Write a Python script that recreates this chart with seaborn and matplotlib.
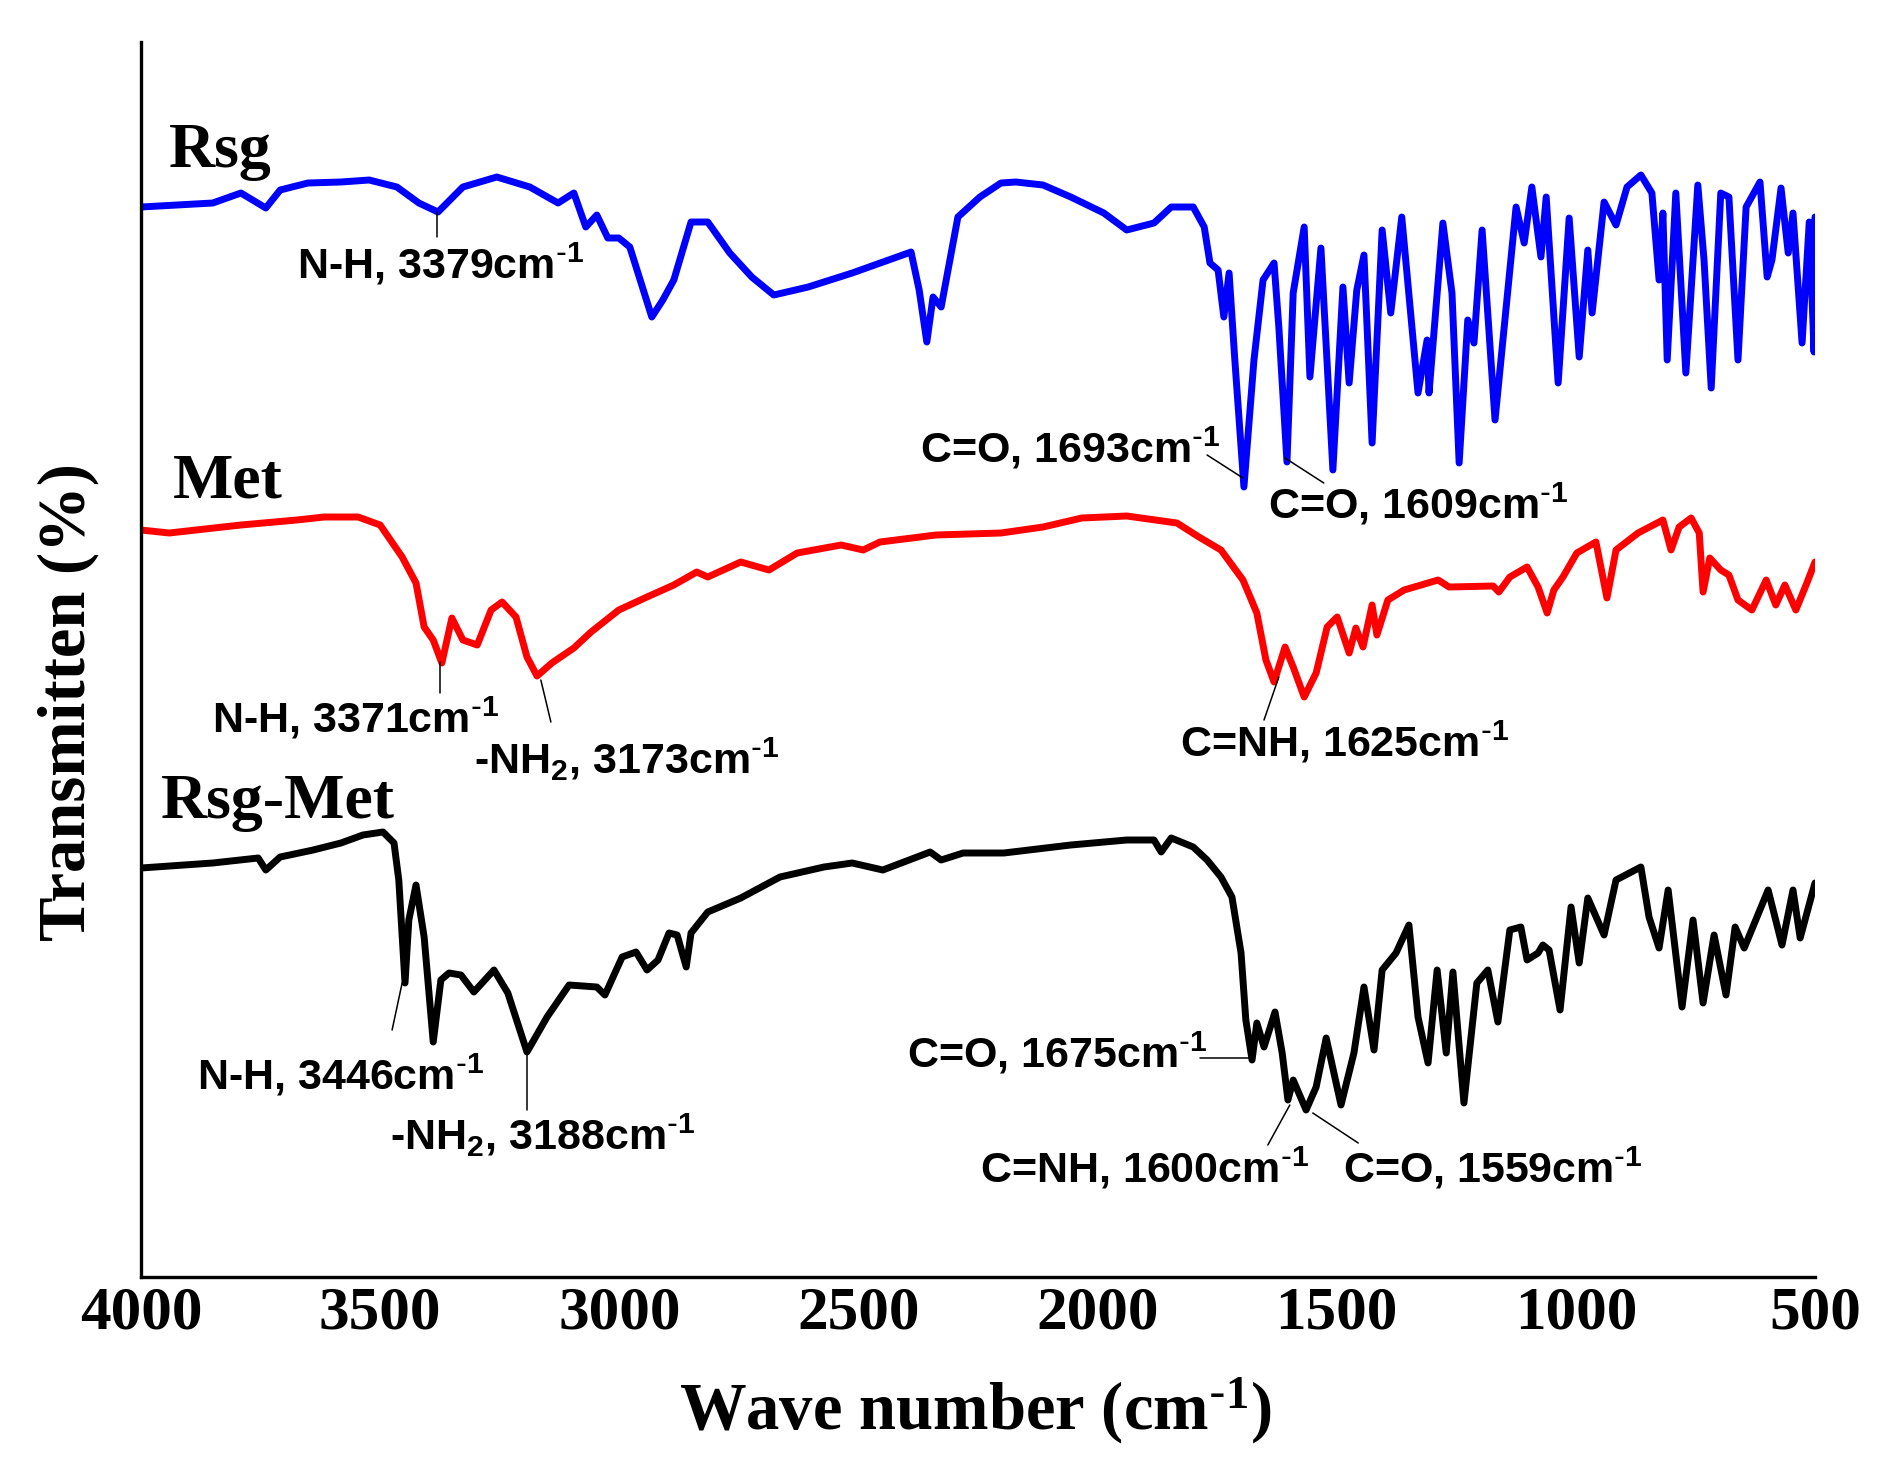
import matplotlib
matplotlib.use("Agg")
import matplotlib.pyplot as plt
import pandas as pd
import seaborn as sns

# ---------------- data (wavenumber cm^-1, transmittance arbitrary offset units) -------------
rsg_wn = [4000, 3850, 3791, 3739, 3709, 3651, 3582, 3523, 3465, 3419, 3379, 3327, 3256, 3187,
          3128, 3095, 3070, 3047, 3024, 3001, 2978, 2932, 2909, 2886, 2850, 2815, 2769, 2723,
          2677, 2605, 2513, 2390, 2373, 2357, 2344, 2327, 2292, 2246, 2202, 2171, 2114, 2056,
          1987, 1939, 1882, 1846, 1800, 1777, 1765, 1748, 1736, 1725, 1713, 1694, 1673, 1654,
          1631, 1621, 1604, 1591, 1568, 1556, 1533, 1508, 1487, 1474, 1458, 1443, 1426, 1405,
          1387, 1364, 1330, 1311, 1307, 1278, 1259, 1244, 1226, 1213, 1196, 1169, 1125, 1108,
          1092, 1073, 1062, 1037, 1014, 993, 975, 966, 941, 916, 893, 864, 841, 826, 818, 809,
          791, 770, 745, 732, 717, 697, 680, 661, 644, 615, 600, 590, 571, 556, 546, 527, 512,
          502, 500]
rsg_t = [107.0, 107.4, 108.4, 106.9, 108.7, 109.4, 109.5, 109.7, 109.0, 107.4, 106.5, 109.0,
         110.0, 109.0, 107.4, 108.4, 105.0, 106.2, 103.9, 103.9, 103.0, 96.0, 97.7, 99.7, 105.5,
         105.5, 102.4, 100.0, 98.2, 99.0, 100.4, 102.5, 98.7, 93.5, 98.0, 97.0, 106.0, 108.0,
         109.4, 109.5, 109.2, 108.0, 106.4, 104.7, 105.4, 107.0, 107.0, 105.0, 101.4, 100.7,
         96.0, 100.4, 91.7, 79.0, 91.7, 99.7, 101.4, 95.0, 81.5, 98.4, 105.0, 90.0, 102.9, 80.7,
         99.0, 89.4, 98.7, 102.2, 83.4, 104.7, 96.4, 106.0, 88.4, 93.7, 88.4, 105.4, 98.4, 81.4,
         95.7, 93.4, 104.7, 85.7, 107.0, 103.4, 109.0, 102.0, 108.0, 89.4, 105.9, 92.0, 102.7,
         96.4, 107.5, 105.2, 109.0, 110.2, 108.4, 99.7, 106.4, 91.7, 108.4, 90.4, 109.2, 101.7,
         88.9, 108.4, 108.0, 91.7, 107.0, 109.5, 100.0, 101.7, 108.9, 102.4, 106.4, 93.4, 105.5,
         92.5, 106.0]

met_wn = [4000, 3941, 3791, 3674, 3617, 3546, 3500, 3454, 3425, 3408, 3389, 3371, 3350, 3327,
          3297, 3268, 3245, 3216, 3193, 3172, 3141, 3095, 3059, 3001, 2942, 2886, 2838, 2815,
          2746, 2687, 2628, 2536, 2490, 2455, 2338, 2202, 2114, 2033, 1939, 1834, 1788, 1742,
          1696, 1667, 1648, 1631, 1608, 1591, 1568, 1543, 1520, 1499, 1474, 1460, 1445, 1426,
          1416, 1393, 1359, 1288, 1265, 1173, 1161, 1138, 1102, 1079, 1060, 1046, 1027, 998,
          958, 935, 916, 870, 818, 801, 784, 759, 742, 734, 720, 697, 680, 661, 632, 602, 582,
          563, 540, 517, 500]
met_t = [74.7, 74.4, 75.2, 75.7, 76.0, 76.0, 75.2, 72.0, 69.4, 65.0, 63.7, 61.4, 65.9, 63.7,
         63.2, 66.7, 67.5, 66.0, 62.0, 60.1, 61.4, 62.9, 64.5, 66.7, 68.0, 69.2, 70.5, 70.0,
         71.5, 70.7, 72.4, 73.2, 72.7, 73.5, 74.2, 74.4, 75.0, 75.9, 76.1, 75.4, 74.0, 72.7,
         69.7, 66.4, 61.7, 59.5, 63.0, 61.0, 58.0, 60.4, 65.0, 66.0, 62.4, 64.9, 63.0, 67.2,
         64.2, 67.7, 68.7, 69.7, 69.0, 69.1, 68.5, 70.0, 71.0, 69.0, 66.4, 68.7, 70.0, 72.4,
         73.5, 67.9, 72.7, 74.4, 75.7, 72.7, 75.0, 75.9, 74.4, 68.5, 71.9, 70.7, 70.2, 67.7,
         66.7, 69.7, 67.2, 69.2, 66.7, 69.4, 71.5]

mix_wn = [4000, 3850, 3755, 3739, 3709, 3640, 3582, 3536, 3494, 3471, 3461, 3448, 3440, 3425,
          3408, 3389, 3373, 3356, 3331, 3304, 3262, 3233, 3193, 3151, 3105, 3047, 3030, 2994,
          2965, 2942, 2919, 2896, 2879, 2860, 2850, 2815, 2746, 2664, 2572, 2513, 2449, 2350,
          2327, 2281, 2196, 2056, 1939, 1882, 1867, 1846, 1800, 1771, 1742, 1719, 1700, 1690,
          1677, 1667, 1652, 1629, 1614, 1602, 1591, 1564, 1543, 1522, 1491, 1464, 1443, 1422,
          1405, 1376, 1349, 1330, 1309, 1290, 1271, 1257, 1234, 1207, 1184, 1163, 1138, 1115,
          1102, 1079, 1069, 1056, 1033, 1010, 993, 975, 941, 916, 864, 847, 826, 807, 778, 755,
          734, 711, 686, 667, 648, 598, 569, 546, 531, 500]
mix_t = [40.9, 41.4, 41.9, 40.7, 42.0, 42.7, 43.4, 44.2, 44.5, 43.4, 39.7, 29.4, 35.7, 39.2,
         34.0, 23.5, 29.7, 30.4, 30.2, 28.5, 30.7, 28.4, 22.5, 26.0, 29.2, 29.0, 28.2, 32.0,
         32.5, 30.7, 31.7, 34.4, 34.2, 31.0, 34.4, 36.5, 37.9, 40.0, 41.0, 41.4, 40.7, 42.5,
         41.7, 42.4, 42.4, 43.2, 43.7, 43.7, 42.5, 43.9, 43.0, 41.7, 40.0, 38.0, 32.4, 25.7,
         21.7, 25.4, 23.0, 26.5, 22.4, 17.7, 19.7, 16.7, 19.0, 23.9, 17.2, 22.4, 29.0, 22.7,
         30.7, 32.4, 35.2, 26.0, 21.4, 30.7, 22.4, 30.5, 17.4, 29.4, 30.7, 25.5, 34.7, 35.0,
         31.7, 32.4, 33.2, 32.7, 26.7, 37.0, 31.4, 37.9, 34.2, 39.7, 41.0, 36.0, 32.9, 38.7,
         27.0, 35.7, 27.4, 34.2, 28.2, 35.0, 32.9, 38.7, 33.2, 38.7, 33.9, 39.4]

series_names = ["Rsg", "Met", "Rsg-Met"]
series_colors = ["#0000FF", "#FF0000", "#000000"]
label_x = [3941, 3933, 3958]
label_y = [111.0, 78.0, 45.9]

ann_texts = [r"N-H, 3379cm$^{\text{-}1}$", r"C=O, 1693cm$^{\text{-}1}$",
             r"C=O, 1609cm$^{\text{-}1}$", r"N-H, 3371cm$^{\text{-}1}$",
             r"-NH$_{2}$, 3173cm$^{\text{-}1}$", r"C=NH, 1625cm$^{\text{-}1}$",
             r"N-H, 3446cm$^{\text{-}1}$", r"-NH$_{2}$, 3188cm$^{\text{-}1}$",
             r"C=O, 1675cm$^{\text{-}1}$", r"C=NH, 1600cm$^{\text{-}1}$",
             r"C=O, 1559cm$^{\text{-}1}$"]
ann_tx = [3674, 2371, 1644, 3852, 3304, 1828, 3883, 3479, 2398, 2246, 1487]
ann_ty = [99.9, 81.5, 75.9, 54.5, 50.3, 52.1, 18.8, 12.7, 21.0, 9.4, 9.4]
ann_x0 = [3381, 1771, 1608, 3375, 3164, 1621, 3454, 3193, 1786, 1644, 1550]
ann_y0 = [106.5, 82.2, 81.9, 61.5, 59.7, 60.0, 29.4, 22.5, 21.9, 13.2, 16.4]
ann_x1 = [3381, 1696, 1527, 3375, 3143, 1652, 3475, 3193, 1683, 1598, 1455]
ann_y1 = [104.0, 79.9, 79.4, 58.4, 55.5, 55.7, 24.7, 16.7, 21.9, 17.2, 13.4]

xticks = [4000, 3500, 3000, 2500, 2000, 1500, 1000, 500]

# ---------------- style ----------------
sns.set_theme(style="white")
plt.rcParams["font.family"] = ["Liberation Serif", "DejaVu Sans"]
plt.rcParams["mathtext.default"] = "regular"
plt.rcParams["text.color"] = "black"
plt.rcParams["axes.labelcolor"] = "black"
plt.rcParams["xtick.color"] = "black"
plt.rcParams["axes.edgecolor"] = "black"

fig = plt.figure(figsize=(18.88, 14.77), dpi=100)
ax = fig.add_axes([0.07468, 0.13541, 0.88665, 0.83615])

for name, wn, t, col in zip(series_names, [rsg_wn, met_wn, mix_wn], [rsg_t, met_t, mix_t],
                            series_colors):
    df = pd.DataFrame({"wn": wn, "t": t})
    sns.lineplot(data=df, x="wn", y="t", ax=ax, color=col, lw=5.0, estimator=None,
                 sort=False, solid_joinstyle="round", solid_capstyle="round")

for name, x, y in zip(series_names, label_x, label_y):
    ax.text(x, y, name, fontsize=46, fontweight="bold", family="Liberation Serif",
            ha="left", va="baseline", color="black")

for s, tx, ty, x0, y0, x1, y1 in zip(ann_texts, ann_tx, ann_ty, ann_x0, ann_y0, ann_x1, ann_y1):
    ax.plot([x0, x1], [y0, y1], color="black", lw=1.1)
    ax.text(tx, ty, s, fontsize=31, fontweight="bold", family="Liberation Sans",
            ha="left", va="baseline", color="black")

ax.set_xlim(4000, 500)
ax.set_ylim(0, 123.5)
ax.set_xticks(xticks)
ax.set_xticklabels([str(v) for v in xticks], fontsize=44, fontweight="bold",
                   family="Liberation Serif", color="black")
ax.set_yticks([])
ax.tick_params(axis="x", length=0, pad=6, colors="black")
ax.set_xlabel("")
ax.set_ylabel("")
for side in ["top", "right"]:
    ax.spines[side].set_visible(False)
for side in ["left", "bottom"]:
    ax.spines[side].set_color("black")
    ax.spines[side].set_linewidth(2.4)

fig.text(975 / 1888, 1 - 1429 / 1477, r"Wave number (cm$^{\text{-}1}$)", fontsize=48,
         fontweight="bold", family="Liberation Serif", ha="center", va="baseline",
         color="black")
fig.text(68 / 1888, 1 - 702 / 1477, "Transmitten (%)", fontsize=48, fontweight="bold",
         family="Liberation Serif", ha="center", va="center", rotation=90, color="black")

fig.savefig("out.png", dpi=100, facecolor="white")
